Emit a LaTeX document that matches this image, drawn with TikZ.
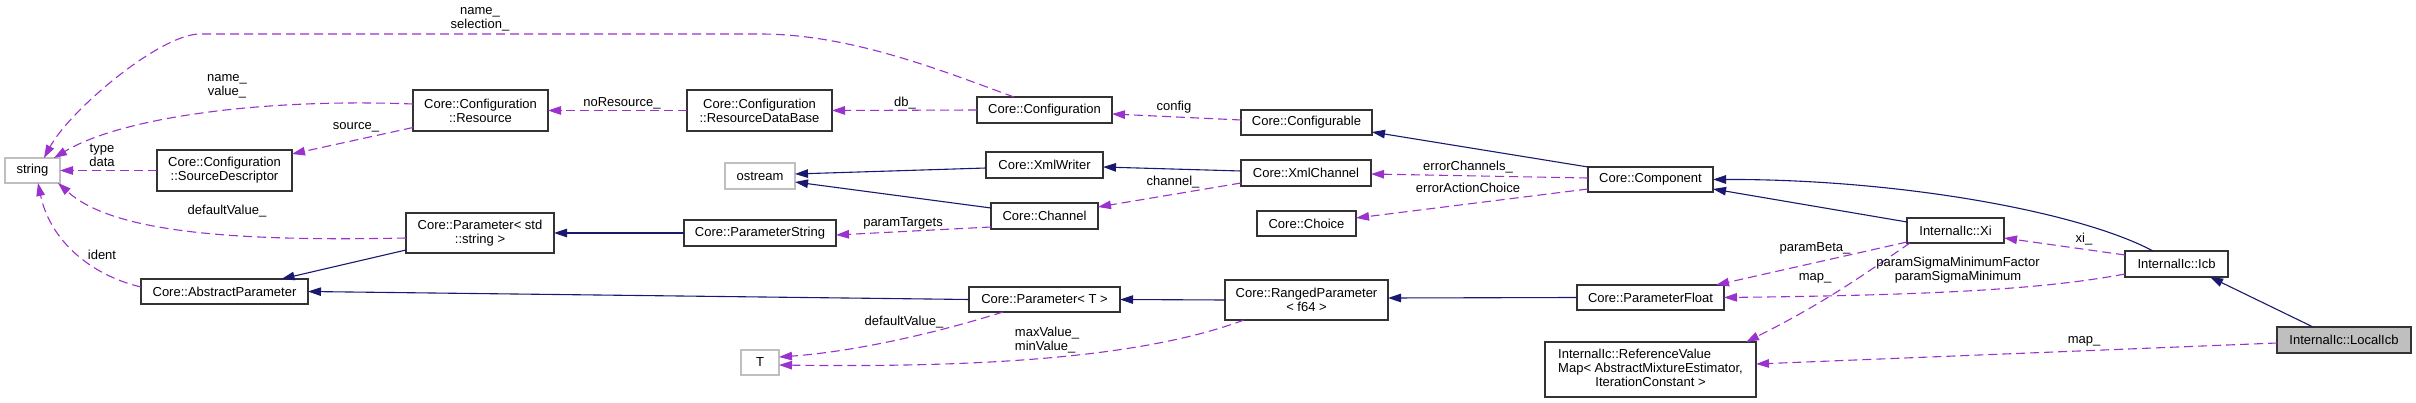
\documentclass[tikz,border=0pt]{standalone}
\usepackage{fontspec}
\setmainfont{Liberation Sans}
\usetikzlibrary{arrows.meta,calc}
\definecolor{dxpurple}{HTML}{9A32CD}
\definecolor{dxnavy}{HTML}{191970}
\definecolor{dxgray}{HTML}{BFBFBF}
\definecolor{dxborder}{HTML}{333333}
\tikzset{
  box/.style={draw=dxborder, line width=1.2pt, fill=white, rectangle, inner sep=0pt, outer sep=0pt,
    anchor=north west, font=\fontsize{13}{14}\selectfont, align=center},
  graybox/.style={box, draw=dxgray},
  mainbox/.style={box, fill=dxgray},
  inh/.style={color=dxnavy, line width=1.1pt, -{Triangle[length=13pt,width=8.5pt]}},
  dep/.style={color=dxpurple, line width=1.1pt, dash pattern=on 9pt off 5pt, -{Triangle[length=13pt,width=8.5pt]}},
  lbl/.style={font=\fontsize{13}{14}\selectfont, align=center, inner sep=0pt, text=black},
}
\begin{document}
\begin{tikzpicture}[x=1pt,y=-1pt]
\fill[white] (0,0) rectangle (2416,403);
\useasboundingbox (0,0) rectangle (2416,403);

% nodes
\node[graybox, minimum width=55pt, minimum height=25pt] (str) at (5,158) {string};
\node[box, minimum width=135pt, minimum height=41pt] (srcd) at (157,150) {Core::Configuration\\::SourceDescriptor};
\node[box, minimum width=167pt, minimum height=25pt] (absp) at (141,279) {Core::AbstractParameter};
\node[box, minimum width=135pt, minimum height=41pt] (res) at (413,90) {Core::Configuration\\::Resource};
\node[box, minimum width=148pt, minimum height=40pt] (pstr) at (406,213) {Core::Parameter< std\\::string >};
\node[box, minimum width=145pt, minimum height=41pt] (rdb) at (687,90) {Core::Configuration\\::ResourceDataBase};
\node[graybox, minimum width=70pt, minimum height=26pt] (ostr) at (725,163) {ostream};
\node[box, minimum width=152pt, minimum height=26pt] (pstring) at (684,220) {Core::ParameterString};
\node[graybox, minimum width=38pt, minimum height=25pt] (T) at (741,350) {T};
\node[box, minimum width=135pt, minimum height=26pt] (conf) at (977,97) {Core::Configuration};
\node[box, minimum width=117pt, minimum height=26pt] (xmlw) at (986,152) {Core::XmlWriter};
\node[box, minimum width=107pt, minimum height=26pt] (chan) at (991,203) {Core::Channel};
\node[box, minimum width=151pt, minimum height=25pt] (pT) at (969,287) {Core::Parameter< T >};
\node[box, minimum width=131pt, minimum height=25pt] (cfgb) at (1241,110) {Core::Configurable};
\node[box, minimum width=130pt, minimum height=26pt] (xmlc) at (1241,160) {Core::XmlChannel};
\node[box, minimum width=99pt, minimum height=25pt] (choice) at (1257,211) {Core::Choice};
\node[box, minimum width=163pt, minimum height=40pt] (ranged) at (1225,280) {Core::RangedParameter\\< f64 >};
\node[box, minimum width=125pt, minimum height=25pt] (comp) at (1588,167) {Core::Component};
\node[box, minimum width=147pt, minimum height=25pt] (pfloat) at (1577,285) {Core::ParameterFloat};
\node[box, minimum width=211pt, minimum height=55pt] (rvm) at (1545,342)
  {\begin{tabular}{@{}l@{}}InternalIc::ReferenceValue\\Map< AbstractMixtureEstimator,\\\multicolumn{1}{@{}c@{}}{IterationConstant >}\end{tabular}};
\node[box, minimum width=97pt, minimum height=25pt] (xi) at (1907,218) {InternalIc::Xi};
\node[box, minimum width=103pt, minimum height=26pt] (icb) at (2125,251) {InternalIc::Icb};
\node[mainbox, minimum width=134pt, minimum height=26pt] (licb) at (2277,327) {InternalIc::LocalIcb};

% inheritance (solid)
\draw[inh] ($(pstr.west)+(0,17)$) -- ($(absp.north)+(57,0)$);
\draw[inh] (pT.west) -- (absp.east);
\draw[inh] (pstring.west) -- (pstr.east);
\draw[inh] ($(xmlw.west)+(0,3)$) -- ($(ostr.east)+(0,-2)$);
\draw[inh] ($(chan.west)+(0,-8)$) -- ($(ostr.east)+(0,6)$);
\draw[inh] ($(xmlc.west)+(0,-2)$) -- ($(xmlw.east)+(0,2)$);
\draw[inh] (ranged.west) -- (pT.east);
\draw[inh] (comp.north west) -- ($(cfgb.east)+(0,9.5)$);
\draw[inh] (pfloat.west) -- ($(ranged.east)+(0,-2)$);
\draw[inh] ($(icb.north)+(-23.5,0)$) .. controls (2080,212) and (1900,179) .. (comp.east);
\draw[inh] ($(xi.north west)+(0,4)$) -- ($(comp.south east)+(0,-3)$);
\draw[inh] ($(licb.north)+(-31,0)$) -- ($(icb.south)+(33.5,0)$);

% usage (dashed)
\draw[dep] ($(conf.north west)+(37,0)$) .. controls (940,70) and (850,34) .. (760,34)
  -- (200,34) .. controls (160,34) and (70,110) .. ($(str.north west)+(39,0)$);
\draw[dep] ($(res.west)+(0,-6.5)$) .. controls (260,98) and (120,118) .. ($(str.north west)+(49,0)$);
\draw[dep] ($(res.west)+(0,17)$) -- ($(srcd.north east)+(0,4)$);
\draw[dep] (srcd.west) -- (str.east);
\draw[dep] ($(pstr.west)+(0,5)$) .. controls (220,242) and (110,230) .. ($(str.south east)+(-2,0)$);
\draw[dep] ($(absp.west)+(0,-4.5)$) .. controls (90,275) and (50,240) .. ($(str.south west)+(33,0)$);
\draw[dep] (rdb.west) -- (res.east);
\draw[dep] (conf.west) -- (rdb.east);
\draw[dep] ($(cfgb.west)+(0,-2.5)$) -- ($(conf.east)+(0,4)$);
\draw[dep] ($(xmlc.west)+(0,10)$) -- ($(chan.east)+(0,-9)$);
\draw[dep] ($(chan.west)+(0,11)$) -- ($(pstring.east)+(0,2)$);
\draw[dep] ($(pT.south)+(-41.5,0)$) .. controls (930,335) and (850,352) .. ($(T.east)+(0,-5.5)$);
\draw[dep] ($(ranged.south)+(-62.5,0)$) .. controls (1150,355) and (1000,368) .. ($(T.east)+(0,2.5)$);
\draw[dep] ($(comp.west)+(0,-1.5)$) -- ($(xmlc.east)+(0,1)$);
\draw[dep] ($(comp.west)+(0,9.5)$) -- ($(choice.east)+(0,-5.5)$);
\draw[dep] ($(xi.west)+(0,11.5)$) -- ($(pfloat.north east)+(-8,0)$);
\draw[dep] ($(xi.south west)+(3,0)$) .. controls (1870,270) and (1830,300) .. ($(rvm.north east)+(-10,0)$);
\draw[dep] ($(icb.west)+(0,10)$) .. controls (2050,288) and (1950,295) .. (pfloat.east);
\draw[dep] ($(icb.west)+(0,-9)$) -- ($(xi.east)+(0,7.5)$);
\draw[dep] ($(licb.west)+(0,3)$) -- ($(rvm.east)+(0,-5.5)$);

% labels
\node[lbl] (l1) at (480,19) {name\_\\selection\_};
\node[lbl] (l2) at (227,86) {name\_\\value\_};
\node[lbl] (l3) at (356,127) {source\_};
\node[lbl] (l4) at (102,155) {type\\data};
\node[lbl] (l5) at (227,211) {defaultValue\_};
\node[lbl] (l6) at (102,255) {ident};
\node[lbl] (l7) at (622,103) {noResource\_};
\node[lbl] (l8) at (905,103) {db\_};
\node[lbl] (l9) at (1174,107) {config};
\node[lbl] (l10) at (1173,182) {channel\_};
\node[lbl] (l11) at (903,223) {paramTargets};
\node[lbl] (l12) at (904,322) {defaultValue\_};
\node[lbl, align=left] (l13) at (1047,340) {maxValue\_\\minValue\_};
\node[lbl] (l14) at (1468,167) {errorChannels\_};
\node[lbl] (l15) at (1468,188) {errorActionChoice};
\node[lbl] (l16) at (1815,248) {paramBeta\_};
\node[lbl] (l17) at (1815,278) {map\_};
\node[lbl] (l18) at (1958,270) {paramSigmaMinimumFactor\\paramSigmaMinimum};
\node[lbl] (l19) at (2084,239) {xi\_};
\node[lbl] (l20) at (2084,341) {map\_};
\end{tikzpicture}
\end{document}
